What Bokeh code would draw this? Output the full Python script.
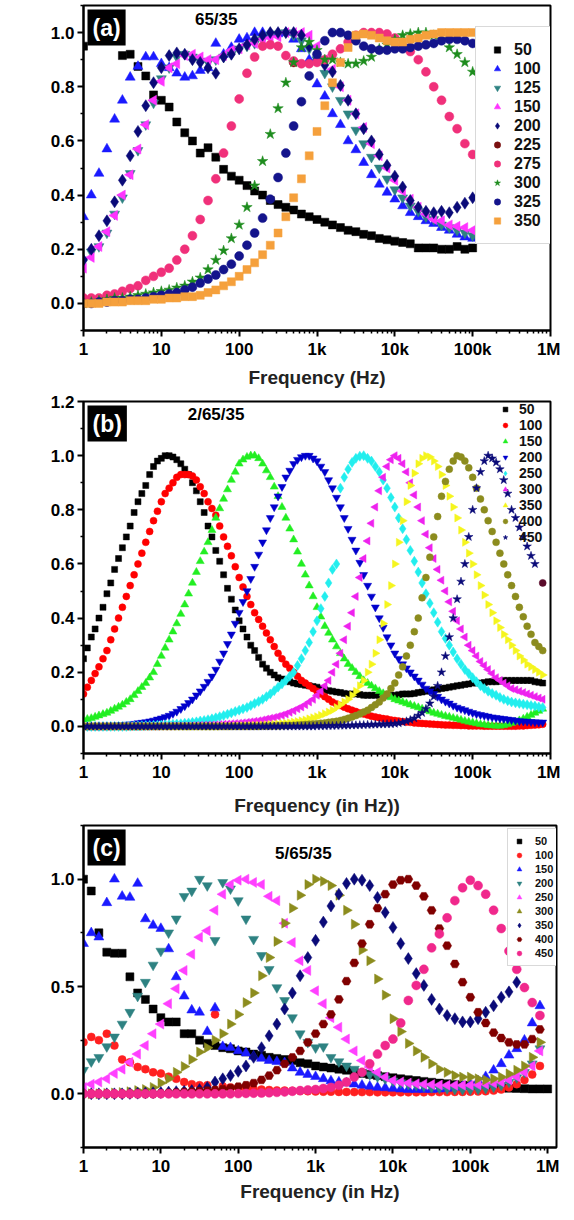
import math
from bokeh.plotting import figure
from bokeh.models import Range1d, FixedTicker, Label, PrintfTickFormatter
from bokeh.layouts import column
from bokeh.embed import file_html
from bokeh.resources import INLINE

FONT = "Liberation Sans"

# ---------------- data ----------------
# sweep frequencies used in panels (a) and (c): 10 points per decade
FREQ_HZ = [1, 1.26, 1.58, 2.0, 2.51, 3.16, 3.98, 5.01, 6.31, 7.94,
           10, 12.6, 15.8, 20.0, 25.1, 31.6, 39.8, 50.1, 63.1, 79.4,
           100, 126, 158, 200, 251, 316, 398, 501, 631, 794,
           1000, 1260, 1580, 2000, 2510, 3160, 3980, 5010, 6310, 7940,
           10000, 12600, 15800, 20000, 25100, 31600, 39800, 50100, 63100, 79400,
           100000, 126000, 158000, 200000, 251000, 316000, 398000, 501000, 631000, 794000,
           1000000]
# sweep frequencies used in panel (b): 20 points per decade
FREQ_B = [1, 1.12, 1.26, 1.41, 1.58, 1.78, 2.0, 2.24, 2.51, 2.82,
          3.16, 3.55, 3.98, 4.47, 5.01, 5.62, 6.31, 7.08, 7.94, 8.91,
          10, 11.2, 12.6, 14.1, 15.8, 17.8, 20, 22.4, 25.1, 28.2,
          31.6, 35.5, 39.8, 44.7, 50.1, 56.2, 63.1, 70.8, 79.4, 89.1,
          100, 112, 126, 141, 158, 178, 200, 224, 251, 282,
          316, 355, 398, 447, 501, 562, 631, 708, 794, 891,
          1000, 1120, 1260, 1410, 1580, 1780, 2000, 2240, 2510, 2820,
          3160, 3550, 3980, 4470, 5010, 5620, 6310, 7080, 7940, 8910,
          10000, 11200, 12600, 14100, 15800, 17800, 20000, 22400, 25100, 28200,
          31600, 35500, 39800, 44700, 50100, 56200, 63100, 70800, 79400, 89100,
          100000, 112000, 126000, 141000, 158000, 178000, 200000, 224000, 251000, 282000,
          316000, 355000, 398000, 447000, 501000, 562000, 631000, 708000, 794000, 891000]

X_TICKS = [1, 10, 100, 1000, 10000, 100000, 1000000]
X_TICK_LABELS = ["1", "10", "100", "1k", "10k", "100k", "1M"]

# panel (a) 65/35
A_LABELS = ["50", "100", "125", "150", "200", "225", "275", "300", "325", "350"]
A_50 = [0.95, None, None, None, None, 0.915, 0.92, 0.875, 0.84, 0.77,
        0.75, 0.725, 0.67, 0.63, 0.60, 0.555, 0.575, 0.54, 0.495, 0.47,
        0.455, 0.435, 0.415, 0.40, 0.38, 0.365, 0.355, 0.345, 0.33, 0.32,
        0.31, 0.30, 0.29, 0.28, 0.27, 0.265, 0.255, 0.25, 0.24, 0.235,
        0.23, 0.225, 0.22, 0.205, 0.205, 0.205, 0.20, 0.20, 0.21, 0.20,
        0.205]
A_100 = [0.32, 0.40, 0.48, 0.57, 0.68, 0.75, 0.835, 0.875, 0.91, 0.91,
         0.885, 0.87, 0.85, 0.835, 0.84, 0.86, 0.87, 0.96, 0.92, 0.945,
         0.975, 0.98, 1.0, 1.0, 0.995, 0.995, 1.0, 0.975, 0.94, 0.90,
         0.81, 0.765, 0.70, 0.66, 0.60, 0.567, 0.52, 0.475, 0.44, 0.41,
         0.385, 0.36, 0.335, 0.32, 0.305, 0.295, 0.28, 0.27, 0.255, 0.245,
         0.24]
A_125 = [0.16, 0.19, 0.21, 0.26, 0.33, 0.39, 0.48, 0.565, 0.66, 0.74,
         0.83, 0.87, 0.91, 0.92, 0.91, 0.895, 0.89, 0.90, 0.91, 0.92,
         0.94, 0.95, 0.96, 0.975, 0.99, 0.995, 1.0, 0.99, 0.97, 0.94,
         0.90, 0.85, 0.80, 0.75, 0.70, 0.64, 0.59, 0.54, 0.50, 0.46,
         0.42, 0.39, 0.36, 0.34, 0.32, 0.31, 0.29, 0.28, 0.27, 0.26,
         0.25]
A_150 = [0.13, 0.17, 0.21, 0.265, 0.325, 0.40, 0.475, 0.57, 0.66, 0.75,
         0.82, 0.87, 0.885, 0.915, 0.92, 0.91, 0.90, 0.90, 0.915, 0.935,
         0.94, 0.955, 0.96, 0.975, 0.98, 0.985, 1.0, 1.0, 1.0, 0.99,
         0.95, 0.90, 0.865, 0.80, 0.75, 0.70, 0.65, 0.59, 0.545, 0.50,
         0.455, 0.415, 0.385, 0.355, 0.33, 0.31, 0.305, 0.29, 0.285, 0.28,
         0.27]
A_200 = [0.16, 0.20, 0.25, 0.305, 0.375, 0.455, 0.545, 0.635, 0.73, 0.815,
         0.87, 0.915, 0.925, 0.92, 0.90, 0.89, 0.87, 0.85, 0.91, 0.92,
         0.94, 0.955, 0.975, 0.99, 1.0, 1.0, 1.0, 1.0, 0.99, 0.95,
         0.90, 0.88, 0.855, 0.805, 0.75, 0.70, 0.645, 0.60, 0.55, 0.51,
         0.47, 0.43, 0.38, 0.355, 0.34, 0.335, 0.34, 0.335, 0.355, 0.37,
         0.39]
A_225_HZ = [501]
A_225 = [0.89]
A_275 = [0.02, 0.02, 0.02, 0.03, 0.035, 0.045, 0.055, 0.065, 0.085, 0.10,
         0.115, 0.13, 0.16, 0.20, 0.25, 0.31, 0.38, 0.46, 0.555, 0.655,
         0.755, 0.85, 0.91, 0.95, 0.955, 0.95, 0.915, 0.895, 0.885, 0.885,
         0.89, 0.90, 0.92, 0.94, 0.965, 0.99, 1.0, 1.0, 1.0, 0.995,
         0.98, 0.95, 0.93, 0.90, 0.855, 0.80, 0.75, 0.69, 0.645, 0.59,
         0.55]
A_300 = [0.0, 0.005, 0.01, 0.015, 0.02, 0.02, 0.025, 0.03, 0.035, 0.04,
         0.045, 0.05, 0.058, 0.065, 0.08, 0.095, 0.125, 0.16, 0.195, 0.24,
         0.29, 0.355, 0.435, 0.525, 0.625, 0.72, 0.815, 0.89, 0.945, 0.965,
         0.935, 0.90, 0.90, 0.89, 0.885, 0.885, 0.895, 0.91, 0.94, 0.955,
         0.975, 0.99, 0.995, 1.0, 1.0, 0.99, 0.975, 0.945, 0.92, 0.89,
         0.855]
A_325 = [0.0, 0.0, 0.005, 0.005, 0.01, 0.01, 0.015, 0.015, 0.02, 0.025,
         0.03, 0.035, 0.04, 0.05, 0.06, 0.075, 0.09, 0.105, 0.125, 0.145,
         0.175, 0.215, 0.26, 0.315, 0.385, 0.465, 0.555, 0.655, 0.745, 0.84,
         0.92, 0.97, 1.0, 1.0, 0.99, 0.97, 0.95, 0.94, 0.935, 0.935,
         0.94, 0.94, 0.945, 0.95, 0.955, 0.96, 0.97, 0.975, 0.975, 0.97,
         0.96]
A_350 = [0.0, 0.0, 0.0, 0.005, 0.005, 0.005, 0.01, 0.01, 0.01, 0.015,
         0.015, 0.02, 0.02, 0.025, 0.025, 0.03, 0.04, 0.05, 0.065, 0.08,
         0.10, 0.125, 0.15, 0.18, 0.215, 0.26, 0.32, 0.39, 0.46, 0.545,
         0.635, 0.73, 0.815, 0.89, 0.945, 0.99, 0.995, 0.99, 0.98, 0.97,
         0.965, 0.965, 0.975, 0.98, 0.99, 0.995, 1.0, 1.0, 1.0, 1.0,
         1.0]

# panel (b) 2/65/35  (values on FREQ_B)
B_LABELS = ["50", "100", "150", "200", "250", "300", "350", "400", "450"]
B_50 = [0.25, 0.29, 0.33, 0.36, 0.40, 0.44, 0.49, 0.53, 0.58, 0.62,
        0.66, 0.70, 0.74, 0.79, 0.83, 0.86, 0.89, 0.93, 0.96, 0.98,
        0.99, 1.0, 1.0, 0.995, 0.985, 0.97, 0.95, 0.93, 0.90, 0.87,
        0.83, 0.79, 0.74, 0.70, 0.65, 0.61, 0.56, 0.51, 0.47, 0.43,
        0.39, 0.36, 0.33, 0.30, 0.28, 0.255, 0.23, 0.215, 0.20, 0.19,
        0.18, 0.175, 0.17, 0.165, 0.16, 0.157, 0.155, 0.152, 0.15, 0.147,
        0.145, 0.14, 0.135, 0.132, 0.13, 0.127, 0.125, 0.122, 0.12, 0.12,
        0.12, 0.118, 0.115, 0.115, 0.115, 0.115, 0.115, 0.115, 0.115, 0.115,
        0.115, 0.117, 0.12, 0.12, 0.12, 0.122, 0.125, 0.127, 0.13, 0.132,
        0.135, 0.137, 0.14, 0.142, 0.145, 0.147, 0.15, 0.152, 0.155, 0.157,
        0.16, 0.16, 0.16, 0.162, 0.165, 0.165, 0.165, 0.167, 0.17, 0.17,
        0.17, 0.17, 0.17, 0.17, 0.17, 0.17, 0.165, 0.163, 0.16]
B_100 = [0.12, 0.145, 0.17, 0.195, 0.22, 0.25, 0.28, 0.32, 0.36, 0.40,
         0.44, 0.48, 0.52, 0.56, 0.60, 0.64, 0.68, 0.72, 0.76, 0.795,
         0.83, 0.86, 0.88, 0.90, 0.92, 0.93, 0.93, 0.93, 0.925, 0.91,
         0.885, 0.86, 0.83, 0.805, 0.78, 0.74, 0.70, 0.665, 0.63, 0.59,
         0.55, 0.515, 0.48, 0.45, 0.42, 0.395, 0.37, 0.345, 0.32, 0.295,
         0.27, 0.25, 0.23, 0.215, 0.20, 0.185, 0.17, 0.16, 0.15, 0.14,
         0.13, 0.12, 0.11, 0.10, 0.09, 0.083, 0.077, 0.071, 0.065, 0.06,
         0.055, 0.05, 0.046, 0.042, 0.038, 0.035, 0.032, 0.029, 0.027, 0.024,
         0.022, 0.02, 0.018, 0.016, 0.015, 0.013, 0.012, 0.011, 0.01, 0.009,
         0.008, 0.007, 0.006, 0.005, 0.005, 0.004, 0.004, 0.003, 0.003, 0.002,
         0.002, 0.002, 0.002, 0.001, 0.001, 0.001, 0.001, 0.001, 0.001, 0.001,
         0.001, 0.001, 0.002, 0.002, 0.003, 0.004, 0.005, 0.006, 0.008]
B_150 = [0.025, 0.027, 0.03, 0.035, 0.04, 0.045, 0.05, 0.057, 0.065, 0.072,
         0.08, 0.09, 0.10, 0.115, 0.13, 0.145, 0.16, 0.18, 0.20, 0.23,
         0.26, 0.29, 0.32, 0.35, 0.38, 0.415, 0.45, 0.49, 0.53, 0.57,
         0.61, 0.645, 0.68, 0.725, 0.77, 0.805, 0.84, 0.875, 0.91, 0.94,
         0.97, 0.985, 0.995, 1.0, 1.0, 0.99, 0.97, 0.945, 0.92, 0.885,
         0.85, 0.81, 0.77, 0.73, 0.69, 0.645, 0.60, 0.56, 0.52, 0.48,
         0.44, 0.405, 0.37, 0.345, 0.32, 0.295, 0.27, 0.25, 0.23, 0.215,
         0.20, 0.185, 0.17, 0.16, 0.15, 0.14, 0.13, 0.122, 0.115, 0.107,
         0.10, 0.095, 0.09, 0.085, 0.08, 0.075, 0.07, 0.065, 0.06, 0.055,
         0.05, 0.046, 0.042, 0.038, 0.035, 0.031, 0.028, 0.024, 0.02, 0.017,
         0.014, 0.011, 0.008, 0.006, 0.004, 0.003, 0.002, 0.002, 0.004, 0.007,
         0.012, 0.017, 0.022, 0.028, 0.035, 0.042, 0.05, 0.057, 0.065]
B_200 = [0, 0, 0, 0, 0, 0.001, 0.002, 0.003, 0.004, 0.005,
         0.006, 0.007, 0.008, 0.01, 0.012, 0.014, 0.016, 0.019, 0.022, 0.026,
         0.03, 0.035, 0.04, 0.047, 0.055, 0.065, 0.075, 0.087, 0.10, 0.115,
         0.13, 0.147, 0.165, 0.185, 0.21, 0.24, 0.27, 0.305, 0.34, 0.38,
         0.42, 0.46, 0.50, 0.545, 0.59, 0.635, 0.68, 0.725, 0.77, 0.81,
         0.85, 0.885, 0.92, 0.945, 0.97, 0.985, 0.995, 1.0, 1.0, 0.99,
         0.98, 0.96, 0.94, 0.91, 0.88, 0.845, 0.81, 0.77, 0.73, 0.69,
         0.65, 0.605, 0.56, 0.52, 0.48, 0.44, 0.40, 0.365, 0.33, 0.30,
         0.27, 0.25, 0.23, 0.215, 0.20, 0.185, 0.17, 0.155, 0.14, 0.13,
         0.12, 0.11, 0.10, 0.092, 0.085, 0.077, 0.07, 0.065, 0.06, 0.055,
         0.05, 0.046, 0.043, 0.04, 0.037, 0.034, 0.032, 0.03, 0.028, 0.026,
         0.024, 0.022, 0.02, 0.019, 0.018, 0.017, 0.016, 0.015, 0.015]
B_250 = [0, 0, 0, 0, 0, 0, 0, 0, 0, 0,
         0, 0, 0.001, 0.0015, 0.002, 0.0025, 0.003, 0.0035, 0.004, 0.0045,
         0.005, 0.006, 0.007, 0.008, 0.009, 0.01, 0.012, 0.013, 0.015, 0.017,
         0.02, 0.022, 0.025, 0.028, 0.032, 0.036, 0.04, 0.045, 0.05, 0.055,
         0.06, 0.065, 0.07, 0.077, 0.085, 0.092, 0.10, 0.11, 0.12, 0.132,
         0.145, 0.157, 0.17, 0.185, 0.20, 0.225, 0.25, 0.28, 0.31, 0.35,
         0.39, 0.435, 0.48, 0.53, 0.58, 0.60, 0.88, 0.92, 0.95, 0.975,
         0.99, 0.998, 1.0, 0.99, 0.98, 0.96, 0.94, 0.91, 0.88, 0.845,
         0.81, 0.77, 0.73, 0.69, 0.65, 0.61, 0.57, 0.53, 0.49, 0.455,
         0.42, 0.385, 0.35, 0.325, 0.30, 0.275, 0.25, 0.23, 0.21, 0.195,
         0.18, 0.165, 0.15, 0.14, 0.13, 0.122, 0.115, 0.107, 0.10, 0.095,
         0.09, 0.087, 0.085, 0.082, 0.08, 0.077, 0.075, 0.072, 0.07]
B_300 = [0, 0, 0, 0, 0, 0, 0, 0, 0, 0,
         0, 0, 0, 0, 0, 0, 0, 0, 0, 0,
         0.001, 0.001, 0.001, 0.0015, 0.002, 0.002, 0.002, 0.0025, 0.003, 0.0035,
         0.004, 0.0045, 0.005, 0.0055, 0.006, 0.007, 0.008, 0.009, 0.01, 0.011,
         0.012, 0.0135, 0.015, 0.017, 0.019, 0.021, 0.024, 0.027, 0.03, 0.033,
         0.037, 0.041, 0.046, 0.052, 0.058, 0.065, 0.072, 0.08, 0.09, 0.10,
         0.115, 0.13, 0.15, 0.17, 0.20, 0.23, 0.27, 0.32, 0.37, 0.42,
         0.48, 0.55, 0.62, 0.685, 0.75, 0.81, 0.87, 0.92, 0.96, 0.985,
         1.0, 0.99, 0.97, 0.94, 0.90, 0.855, 0.81, 0.76, 0.71, 0.66,
         0.62, 0.58, 0.54, 0.50, 0.46, 0.425, 0.39, 0.36, 0.33, 0.30,
         0.28, 0.26, 0.24, 0.225, 0.21, 0.195, 0.18, 0.17, 0.16, 0.15,
         0.14, 0.135, 0.13, 0.125, 0.12, 0.115, 0.11, 0.105, 0.10]
B_350 = [0, 0, 0, 0, 0, 0, 0, 0, 0, 0,
         0, 0, 0, 0, 0, 0, 0, 0, 0, 0,
         0, 0, 0, 0, 0, 0, 0, 0, 0, 0,
         0, 0, 0, 0, 0, 0, 0.001, 0.001, 0.001, 0.0015,
         0.002, 0.0025, 0.003, 0.0035, 0.004, 0.0045, 0.005, 0.006, 0.007, 0.008,
         0.009, 0.0105, 0.012, 0.014, 0.016, 0.018, 0.021, 0.024, 0.028, 0.032,
         0.036, 0.041, 0.047, 0.053, 0.06, 0.07, 0.08, 0.09, 0.10, 0.115,
         0.13, 0.15, 0.17, 0.20, 0.23, 0.27, 0.32, 0.38, 0.45, 0.52,
         0.60, 0.68, 0.76, 0.83, 0.89, 0.935, 0.97, 0.99, 1.0, 0.995,
         0.98, 0.96, 0.93, 0.89, 0.85, 0.81, 0.77, 0.725, 0.68, 0.64,
         0.60, 0.56, 0.52, 0.485, 0.45, 0.42, 0.39, 0.365, 0.34, 0.32,
         0.30, 0.28, 0.26, 0.245, 0.23, 0.22, 0.21, 0.20, 0.19]
B_400 = [0, 0, 0, 0, 0, 0, 0, 0, 0, 0,
         0, 0, 0, 0, 0, 0, 0, 0, 0, 0,
         0, 0, 0, 0, 0, 0, 0, 0, 0, 0,
         0, 0, 0, 0, 0, 0, 0, 0, 0, 0,
         0, 0, 0, 0, 0, 0, 0.001, 0.001, 0.001, 0.0015,
         0.002, 0.0025, 0.003, 0.0035, 0.004, 0.005, 0.006, 0.007, 0.008, 0.009,
         0.01, 0.0115, 0.013, 0.015, 0.017, 0.019, 0.022, 0.026, 0.03, 0.035,
         0.04, 0.046, 0.053, 0.06, 0.07, 0.08, 0.09, 0.105, 0.12, 0.14,
         0.16, 0.19, 0.22, 0.26, 0.30, 0.35, 0.40, 0.475, 0.55, 0.625,
         0.70, 0.775, 0.85, 0.905, 0.95, 0.98, 1.0, 0.995, 0.98, 0.955,
         0.92, 0.88, 0.84, 0.80, 0.76, 0.72, 0.68, 0.64, 0.60, 0.56,
         0.52, 0.48, 0.44, 0.405, 0.37, 0.34, 0.31, 0.295, 0.28]
B_450 = [0, 0, 0, 0, 0, 0, 0, 0, 0, 0,
         0, 0, 0, 0, 0, 0, 0, 0, 0, 0,
         0, 0, 0, 0, 0, 0, 0, 0, 0, 0,
         0, 0, 0, 0, 0, 0, 0, 0, 0, 0,
         0, 0, 0, 0, 0, 0, 0, 0, 0, 0,
         0, 0, 0, 0, 0, 0, 0, 0, 0, 0,
         0.001, 0.001, 0.0015, 0.002, 0.002, 0.0025, 0.003, 0.003, 0.0035, 0.004,
         0.0045, 0.005, 0.0055, 0.006, 0.0065, 0.007, 0.0075, 0.008, 0.0085, 0.009,
         0.01, 0.012, 0.015, 0.019, 0.024, 0.03, 0.04, 0.05, 0.065, 0.085,
         0.11, 0.15, 0.20, 0.26, 0.33, 0.40, 0.47, 0.535, 0.60, 0.70,
         0.80, 0.88, 0.94, 0.98, 1.0, 0.99, 0.975, 0.95, 0.91, 0.86,
         0.80, 0.77, 0.735, 0.70, 0.665, 0.63, 0.60]
B_EXTRA_HZ = [794000]
B_EXTRA = [0.53]

# panel (c) 5/65/35
C_LABELS = ["50", "100", "150", "200", "250", "300", "350", "400", "450"]
C_50 = [1.0, 0.945, 0.75, 0.66, 0.655, 0.655, 0.545, 0.47, 0.44, 0.395,
        0.355, 0.335, 0.335, 0.28, 0.28, 0.25, 0.235, 0.225, 0.215, 0.21,
        0.20, 0.195, 0.185, 0.18, 0.17, 0.165, 0.16, 0.155, 0.145, 0.14,
        0.13, 0.125, 0.12, 0.115, 0.11, 0.10, 0.095, 0.09, 0.085, 0.08,
        0.075, 0.07, 0.066, 0.062, 0.058, 0.054, 0.05, 0.047, 0.044, 0.041,
        0.038, 0.035, 0.032, 0.03, 0.028, 0.026, 0.025, 0.024, 0.023, 0.023,
        0.023]
C_100 = [0.24, 0.265, 0.25, 0.28, 0.225, 0.16, 0.147, 0.125, 0.115, 0.10,
         0.095, 0.08, 0.07, 0.055, 0.045, 0.04, 0.04, 0.37, 0.035, 0.03,
         0.028, 0.025, 0.022, 0.02, 0.018, 0.016, 0.015, 0.014, 0.013, 0.012,
         0.011, 0.01, 0.01, 0.009, 0.009, 0.008, 0.008, 0.008, 0.007, 0.007,
         0.007, 0.007, 0.007, 0.007, 0.007, 0.008, 0.008, 0.008, 0.009, 0.009,
         0.01, 0.011, 0.012, 0.015, 0.02, 0.03, 0.045, 0.065, 0.09, 0.13]
C_150 = [0.70, 0.75, 0.73, 0.89, 1.0, 0.92, 0.915, 0.98, 0.815, 0.785,
         0.77, 0.675, 0.545, 0.455, 0.39, 0.38, 0.29, 0.40, 0.22, 0.215,
         0.20, 0.19, 0.175, 0.165, 0.155, 0.15, 0.145, 0.12, 0.10, 0.09,
         0.08, 0.07, 0.06, 0.055, 0.05, 0.045, 0.04, 0.035, 0.03, 0.028,
         0.025, 0.022, 0.02, 0.02, 0.02, 0.02, 0.022, 0.025, 0.03, 0.035,
         0.045, 0.06, 0.08, 0.11, 0.14, 0.18, 0.21, 0.25, 0.33, 0.41]
C_200 = [0.11, 0.15, 0.17, 0.22, 0.265, 0.325, 0.38, 0.455, 0.52, 0.60,
         0.665, 0.75, 0.815, 0.92, 0.945, 1.0, 0.97, 0.715, 0.985, 0.955,
         0.90, 0.815, 0.72, 0.645, 0.58, 0.495, 0.435, 0.355, 0.28, 0.24,
         0.215, 0.22, 0.17, 0.15, 0.13, 0.115, 0.10, 0.09, 0.08, 0.07,
         0.06, 0.052, 0.045, 0.04, 0.035, 0.03, 0.027, 0.024, 0.022, 0.02,
         0.02, 0.022, 0.026, 0.032, 0.04, 0.055, 0.075, 0.10, 0.14, 0.21]
C_250 = [0.03, 0.045, 0.055, 0.07, 0.095, 0.115, 0.147, 0.185, 0.225, 0.28,
         0.325, 0.42, 0.49, 0.575, 0.65, 0.73, 0.76, 0.855, 0.93, 0.975,
         0.995, 1.0, 0.985, 0.975, 0.92, 0.90, 0.795, 0.705, 0.62, 0.575,
         0.48, 0.42, 0.355, 0.31, 0.255, 0.20, 0.155, 0.125, 0.10, 0.078,
         0.062, 0.055, 0.05, 0.047, 0.045, 0.043, 0.041, 0.04, 0.04, 0.04,
         0.04, 0.042, 0.045, 0.05, 0.055, 0.065, 0.08, 0.10, 0.13, 0.20]
C_300 = [0.0, 0.0, 0.0, 0.002, 0.004, 0.006, 0.01, 0.015, 0.02, 0.03,
         0.05, 0.07, 0.10, 0.127, 0.16, 0.195, 0.215, 0.25, 0.28, 0.325,
         0.37, 0.425, 0.47, 0.55, 0.635, 0.71, 0.795, 0.865, 0.925, 0.975,
         1.0, 0.99, 0.97, 0.925, 0.855, 0.79, 0.67, 0.62, 0.535, 0.46,
         0.35, 0.29, 0.235, 0.20, 0.17, 0.14, 0.115, 0.10, 0.085, 0.078,
         0.078, 0.07, 0.065, 0.07, 0.078, 0.093, 0.11, 0.13, 0.17, 0.24]
C_350 = [0.0, 0.0, 0.0, 0.0, 0.0, 0.0, 0.002, 0.003, 0.004, 0.005,
         0.006, 0.008, 0.01, 0.012, 0.015, 0.02, 0.03, 0.055, 0.07, 0.085,
         0.105, 0.13, 0.17, 0.215, 0.27, 0.325, 0.395, 0.47, 0.55, 0.635,
         0.715, 0.80, 0.875, 0.93, 0.98, 1.0, 0.995, 0.97, 0.915, 0.845,
         0.775, 0.70, 0.63, 0.56, 0.505, 0.44, 0.395, 0.365, 0.35, 0.335,
         0.335, 0.35, 0.38, 0.41, 0.45, 0.475, 0.52]
C_400 = [0.0, 0.0, 0.0, 0.0, 0.0, 0.0, 0.0, 0.0, 0.0, 0.0,
         0.002, 0.004, 0.006, 0.008, 0.01, 0.012, 0.015, 0.018, 0.022, 0.027,
         0.033, 0.04, 0.05, 0.065, 0.085, 0.11, 0.14, 0.17, 0.20, 0.24,
         0.28, 0.325, 0.37, 0.44, 0.525, 0.61, 0.70, 0.79, 0.865, 0.93,
         0.975, 0.995, 1.0, 0.97, 0.92, 0.855, 0.77, 0.69, 0.605, 0.52,
         0.45, 0.38, 0.33, 0.285, 0.26, 0.24, 0.23, 0.23, 0.255, 0.30]
C_450 = [0.0, 0.0, 0.0, 0.0, 0.0, 0.0, 0.0, 0.0, 0.0, 0.0,
         0.0, 0.0, 0.0, 0.0, 0.0, 0.0, 0.0, 0.0, 0.0, 0.0,
         0.001, 0.002, 0.003, 0.004, 0.005, 0.007, 0.009, 0.012, 0.015, 0.018,
         0.02, 0.025, 0.03, 0.04, 0.055, 0.078, 0.10, 0.14, 0.185, 0.225,
         0.255, 0.33, 0.435, 0.505, 0.58, 0.68, 0.745, 0.82, 0.90, 0.96,
         0.995, 0.97, 0.93, 0.855, 0.77, 0.665, 0.58, 0.495, 0.425, 0.365]


# ---------------- helpers ----------------
def pairs(values, freqs=FREQ_HZ):
    xs, ys = [], []
    for f, v in zip(freqs, values):
        if v is not None:
            xs.append(f)
            ys.append(v)
    return xs, ys


def make_fig(w, h, bl, br, bt, bb, xr, yr, yticks, yminor):
    p = figure(width=w, height=h, x_axis_type="log",
               x_range=Range1d(*xr), y_range=Range1d(*yr),
               output_backend="svg", toolbar_location=None,
               min_border_left=bl, min_border_right=br,
               min_border_top=bt, min_border_bottom=bb)
    p.xgrid.visible = False
    p.ygrid.visible = False
    p.background_fill_color = "white"
    p.border_fill_color = "white"
    p.outline_line_color = "black"
    p.outline_line_width = 2
    p.outline_line_alpha = 1.0
    for ax in (p.xaxis[0], p.yaxis[0]):
        ax.axis_line_width = 2
        ax.axis_line_color = "black"
        ax.major_tick_line_width = 2
        ax.minor_tick_line_width = 1.5
        ax.major_tick_out = 6
        ax.major_tick_in = 0
        ax.minor_tick_out = 3
        ax.minor_tick_in = 0
        ax.major_label_text_font = FONT
        ax.major_label_text_font_style = "bold"
        ax.major_label_text_font_size = "17px"
        ax.major_label_text_color = "black"
        ax.major_label_standoff = 3
    minors = [m * 10 ** d for d in range(6) for m in range(2, 10)]
    p.xaxis[0].ticker = FixedTicker(ticks=X_TICKS, minor_ticks=minors)
    p.xaxis[0].major_label_overrides = {float(t): s for t, s in zip(X_TICKS, X_TICK_LABELS)}
    p.yaxis[0].ticker = FixedTicker(ticks=yticks, minor_ticks=yminor)
    p.yaxis[0].formatter = PrintfTickFormatter(format="%.1f")
    p.xaxis[0].axis_label_text_font = FONT
    p.xaxis[0].axis_label_text_font_style = "bold"
    p.xaxis[0].axis_label_text_font_size = "19px"
    p.xaxis[0].axis_label_text_color = "#222222"
    return p


def c2d(geom, cx, cy):
    fl, ft, fw, fh, (x0, x1), (y0, y1) = geom
    lx = math.log10(x0) + (cx - fl) / fw * (math.log10(x1) - math.log10(x0))
    return 10 ** lx, y1 - (cy - ft) / fh * (y1 - y0)


def add_text(p, geom, cx, cy, text, size, angle=0.0, color="black"):
    x, y = c2d(geom, cx, cy)
    p.add_layout(Label(x=x, y=y, text=text, angle=angle, text_align="center",
                       text_baseline="middle", text_font=FONT, text_font_style="bold",
                       text_font_size=size, text_color=color))


def add_ylabel(p, geom, main_xy, max_xy, size, sub_size):
    add_text(p, geom, main_xy[0], main_xy[1], 'M"/M"', size, angle=math.pi / 2)
    add_text(p, geom, max_xy[0], max_xy[1], "max", sub_size, angle=math.pi / 2)


def add_panel_tag(p, xr, yr, text):
    p.add_layout(Label(x=xr[0], y=yr[1], text=text, text_align="left",
                       text_baseline="top", text_font=FONT, text_font_style="bold",
                       text_font_size="23px", text_color="white",
                       background_fill_color="black", background_fill_alpha=1.0,
                       padding=5, x_offset=4, y_offset=-4))


def style_legend(p, loc, font_size, item_h, glyph_w, standoff, padding, border):
    lg = p.legend[0]
    lg.location = loc
    lg.margin = 0
    lg.padding = padding
    lg.spacing = 0
    lg.label_height = item_h
    lg.glyph_height = item_h
    lg.glyph_width = glyph_w
    lg.label_standoff = standoff
    lg.label_text_font = FONT
    lg.label_text_font_style = "bold"
    lg.label_text_font_size = font_size
    lg.label_text_color = "#111111"
    if border:
        lg.border_line_color = "#b4b4b4"
        lg.border_line_width = 1
        lg.background_fill_color = "white"
        lg.background_fill_alpha = 1.0
    else:
        lg.border_line_color = None
        lg.background_fill_alpha = 0.0


def draw(p, label, xs, ys, marker, color, size, angle=0.0, legend=True):
    kw = dict(marker=marker, size=size, angle=angle, fill_color=color,
              line_color=color, line_width=0.5)
    if legend:
        kw["legend_label"] = label
    p.scatter(xs, ys, **kw)


# ---------------- panel (a) ----------------
XR_A, YR_A = (1, 1e6), (-0.1, 1.1)
pa = make_fig(560, 390, 75, 10, 5, 57, XR_A, YR_A,
              [0, 0.2, 0.4, 0.6, 0.8, 1.0], [-0.1, 0.1, 0.3, 0.5, 0.7, 0.9, 1.1])
pa.xaxis[0].axis_label = "Frequency (Hz)"
pa.xaxis[0].axis_label_standoff = 5
GEOM_A = (75, 5, 475, 328, XR_A, YR_A)
A_SERIES = [A_50, A_100, A_125, A_150, A_200, None, A_275, A_300, A_325, A_350]
A_STYLE = [("square", "#000000", 8, 0.0), ("triangle", "#1a1aff", 10, 0.0),
           ("inverted_triangle", "#2e8282", 10, 0.0), ("triangle", "#ff33ff", 10, math.pi / 2),
           ("diamond", "#0a0a78", 12, 0.0), ("circle", "#7a1010", 9, 0.0),
           ("circle", "#f0307a", 9, 0.0), ("star", "#1e8c1e", 11, 0.0),
           ("circle", "#14148c", 9, 0.0), ("square", "#f5a03c", 8, 0.0)]
for lab, vals, (mk, col, sz, ang) in zip(A_LABELS, A_SERIES, A_STYLE):
    if vals is None:
        xs, ys = pairs(A_225, A_225_HZ)
    else:
        xs, ys = pairs(vals)
    draw(pa, lab, xs, ys, mk, col, sz, ang)
style_legend(pa, (392, 86), "16px", 19, 16, 9, 13, True)
add_panel_tag(pa, XR_A, YR_A, "(a)")
add_text(pa, GEOM_A, 210, 19, "65/35", "17px")
add_ylabel(pa, GEOM_A, (19, 195), (28, 157), "20px", "10px")

# ---------------- panel (b) ----------------
XR_B, YR_B = (1, 1e6), (-0.1, 1.2)
pb = make_fig(560, 428, 83, 5, 11, 63, XR_B, YR_B,
              [0, 0.2, 0.4, 0.6, 0.8, 1.0, 1.2], [-0.1, 0.1, 0.3, 0.5, 0.7, 0.9, 1.1])
pb.xaxis[0].axis_label = "Frequency (in Hz))"
pb.xaxis[0].axis_label_standoff = 10
GEOM_B = (83, 11, 472, 354, XR_B, YR_B)
B_SERIES = [B_50, B_100, B_150, B_200, B_250, B_300, B_350, B_400, B_450]
B_STYLE = [("square", "#000000", 6, 0.0), ("circle", "#ff0000", 7, 0.0),
           ("triangle", "#22ee22", 8, 0.0), ("inverted_triangle", "#0000cc", 8, 0.0),
           ("diamond", "#22eeee", 10, 0.0), ("triangle", "#ee22ee", 8, math.pi / 2),
           ("triangle", "#f5f51e", 8, -math.pi / 2), ("circle", "#8c8c1e", 7, 0.0),
           ("star", "#0a0a78", 9, 0.0)]
for lab, vals, (mk, col, sz, ang) in zip(B_LABELS, B_SERIES, B_STYLE):
    xs, ys = pairs(vals, FREQ_B)
    draw(pb, lab, xs, ys, mk, col, sz, ang)
xs, ys = pairs(B_EXTRA, B_EXTRA_HZ)
draw(pb, "", xs, ys, "circle", "#5a0a2a", 7, legend=False)
style_legend(pb, (416, 208), "14px", 16, 12, 8, 2, False)
add_panel_tag(pb, XR_B, YR_B, "(b)")
add_text(pb, GEOM_B, 217, 24, "2/65/35", "17px")
add_ylabel(pb, GEOM_B, (20, 215), (32, 167), "20px", "10px")

# ---------------- panel (c) ----------------
XR_C, YR_C = (1, 1.3e6), (-0.25, 1.25)
pc = make_fig(566, 386, 79, 3, 7, 53, XR_C, YR_C,
              [0, 0.5, 1.0], [-0.25, 0.25, 0.75, 1.25])
pc.xaxis[0].axis_label = "Frequency (in Hz)"
pc.xaxis[0].axis_label_standoff = 2
GEOM_C = (79, 7, 484, 326, XR_C, YR_C)
C_SERIES = [C_50, C_100, C_150, C_200, C_250, C_300, C_350, C_400, C_450]
C_STYLE = [("square", "#000000", 8, 0.0), ("circle", "#ff2020", 8, 0.0),
           ("triangle", "#1a1aff", 10, 0.0), ("inverted_triangle", "#2e8282", 10, 0.0),
           ("triangle", "#ff40ff", 10, math.pi / 2), ("triangle", "#8c8c1e", 10, -math.pi / 2),
           ("diamond", "#0a0a78", 12, 0.0), ("hex", "#800000", 9, 0.0),
           ("circle", "#f0288c", 9, 0.0)]
for lab, vals, (mk, col, sz, ang) in zip(C_LABELS, C_SERIES, C_STYLE):
    xs, ys = pairs(vals)
    draw(pc, lab, xs, ys, mk, col, sz, ang)
style_legend(pc, (424, 181), "11px", 14, 12, 10, 5, True)
add_panel_tag(pc, XR_C, YR_C, "(c)")
add_text(pc, GEOM_C, 304, 35, "5/65/35", "17px")
add_ylabel(pc, GEOM_C, (31, 205), (37, 167), "19px", "9px")

layout = column(pa, pb, pc, spacing=0)
open("out.html", "w").write(file_html(layout, INLINE))
